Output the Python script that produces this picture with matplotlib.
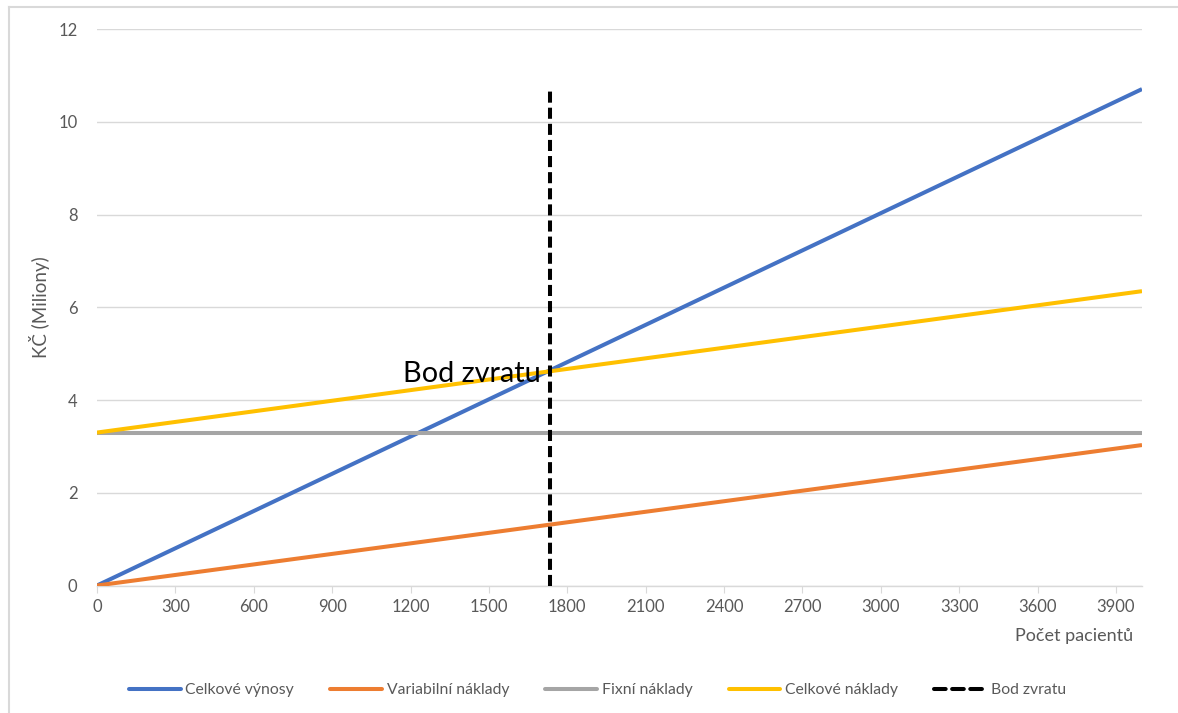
import matplotlib
matplotlib.use("Agg")
import matplotlib.pyplot as plt
from matplotlib.lines import Line2D

plt.rcParams['font.family'] = ['Lato', 'DejaVu Sans']

# data (values in millions of Kč)
patients = [0, 4000]
revenue = [0, 10.71]
variable_cost = [0, 3.03]
fixed_cost = [3.30, 3.30]
total_cost = [3.30, 6.35]
break_even_x = [1734, 1734]
break_even_y = [0, 10.71]
x_ticks = list(range(0, 4000, 300))
y_ticks = [0, 2, 4, 6, 8, 10, 12]

series_names = ['Celkové výnosy', 'Variabilní náklady', 'Fixní náklady',
                'Celkové náklady', 'Bod zvratu']
colors = ['#4472C4', '#ED7D31', '#A5A5A5', '#FFC000', '#000000']

grid_col = '#D9D9D9'
text_col = '#595959'

fig = plt.figure(figsize=(11.78, 7.13), dpi=100)
ax = fig.add_axes([97/1178, 1 - 585.5/713, (1142-97)/1178, (585.5-29.3)/713])

lw = 2.9
ax.plot(patients, revenue, color=colors[0], lw=lw, solid_capstyle='butt', zorder=3)
ax.plot(patients, variable_cost, color=colors[1], lw=lw, solid_capstyle='butt', zorder=3)
ax.plot(patients, fixed_cost, color=colors[2], lw=lw, solid_capstyle='butt', zorder=3)
ax.plot(patients, total_cost, color=colors[3], lw=lw, solid_capstyle='butt', zorder=3)
ax.plot(break_even_x, break_even_y, color=colors[4], lw=lw, dashes=(2.75, 1.25),
        zorder=4)

ax.text(1700, 4.39, 'Bod zvratu', fontsize=20.8, ha='right', va='baseline',
        color='black', zorder=5)

ax.set_xlim(0, 4000)
ax.set_ylim(0, 12)
ax.set_xticks(x_ticks)
ax.set_yticks(y_ticks)
ax.tick_params(axis='x', length=5, color=grid_col, labelsize=12,
               labelcolor=text_col, pad=5)
ax.tick_params(axis='y', length=0, labelsize=12, labelcolor=text_col, pad=14)
ax.grid(axis='y', color=grid_col, lw=1)
ax.set_axisbelow(True)
for s in ['top', 'right', 'left']:
    ax.spines[s].set_visible(False)
ax.spines['bottom'].set_color(grid_col)
ax.spines['bottom'].set_linewidth(1)

ax.set_ylabel('KČ (Miliony)', fontsize=13.5, color=text_col, labelpad=6)
fig.text(1133/1178, 1 - 636/713, 'Počet pacientů', fontsize=13, color=text_col,
         ha='right', va='center')

# outer chart frame (only left and top edges are visible)
fig.add_artist(Line2D([9/1178, 9/1178], [-0.1, 1 - 7/713], color=grid_col, lw=1.5,
                      transform=fig.transFigure))
fig.add_artist(Line2D([9/1178, 1.1], [1 - 7/713, 1 - 7/713], color=grid_col, lw=1.5,
                      transform=fig.transFigure))

handles = []
for i, name in enumerate(series_names):
    if i == 4:
        h = Line2D([], [], color=colors[i], lw=lw, dashes=(2.9, 1.6),
                   dash_capstyle='round')
    else:
        h = Line2D([], [], color=colors[i], lw=lw, solid_capstyle='round')
    handles.append(h)
fig.legend(handles, series_names, loc='center', bbox_to_anchor=(0.507, 1 - 690/713),
           ncol=5, frameon=False, fontsize=11.3, labelcolor=text_col,
           handlelength=3.3, handletextpad=0.3, columnspacing=2.3)

fig.savefig('out.png', dpi=100)
